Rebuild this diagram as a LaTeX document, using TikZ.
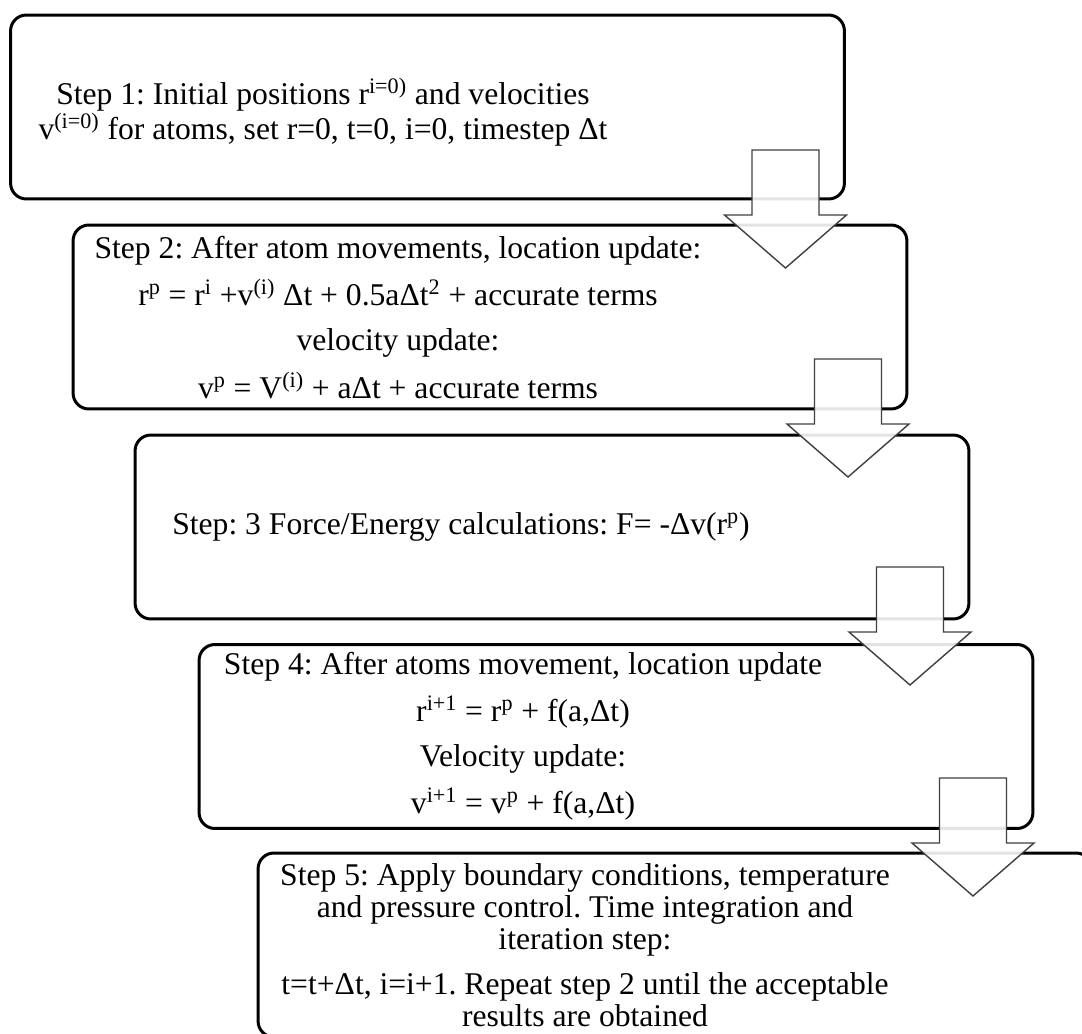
\documentclass[tikz,border=0pt]{standalone}
\usepackage{fontspec}
\setmainfont{Liberation Serif}
\usepackage{tikz}
\frenchspacing

\tikzset{
  stepbox/.style={draw, line width=1.7pt, rounded corners=9pt, minimum width=16.68cm, minimum height=3.68cm, inner sep=0pt},
  steptext/.style={align=center, inner sep=0pt, font=\fontsize{18}{18.2}\selectfont},
  downarrow/.style={draw=black!75, line width=0.8pt, fill=white, fill opacity=0.89}
}

\begin{document}
\begin{tikzpicture}[x=0.02cm, y=-0.02cm]

\useasboundingbox (0,0) rectangle (1082,1034);
\clip (0,0) rectangle (1082,1034);

% boxes
\node[stepbox] (s1) at (427.5,107) {};
\node[stepbox] (s2) at (490,317) {};
\node[stepbox] (s3) at (552,527) {};
\node[stepbox] (s4) at (616,736.5) {};
\node[stepbox] (s5) at (675,945) {};

% arrows
\coordinate (a1) at (785.5,150);
\coordinate (a2) at (848,359);
\coordinate (a3) at (910,567);
\coordinate (a4) at (973,778);
\draw[downarrow] (a1) ++(-33.5,0) -- ++(67,0) -- ++(0,65) -- ++(27.5,0) -- ++(-61,53) -- ++(-61,-53) -- ++(27.5,0) -- cycle;
\draw[downarrow] (a2) ++(-33.5,0) -- ++(67,0) -- ++(0,65) -- ++(27.5,0) -- ++(-61,53) -- ++(-61,-53) -- ++(27.5,0) -- cycle;
\draw[downarrow] (a3) ++(-33.5,0) -- ++(67,0) -- ++(0,65) -- ++(27.5,0) -- ++(-61,53) -- ++(-61,-53) -- ++(27.5,0) -- cycle;
\draw[downarrow] (a4) ++(-33.5,0) -- ++(67,0) -- ++(0,65) -- ++(27.5,0) -- ++(-61,53) -- ++(-61,-53) -- ++(27.5,0) -- cycle;

    \node[steptext, font=\fontsize{18}{17.2}\selectfont] (t1) at (323,112) {Step 1: Initial positions r\textsuperscript{i=0)} and velocities\\ v\textsuperscript{(i=0)} for atoms, set r=0, t=0, i=0, timestep Δt};
    \node[steptext] (t2) at (398,317.5) {Step 2: After atom movements, location update:\\[7.3pt] r\textsuperscript{p} = r\textsuperscript{i} +v\textsuperscript{(i)} Δt + 0.5aΔt\textsuperscript{2} + accurate terms\\[7.3pt] velocity update:\\[7.3pt] v\textsuperscript{p} = V\textsuperscript{(i)} + aΔt + accurate terms};
    \node[steptext] (t3) at (461,527) {Step: 3 Force/Energy calculations: F= -Δv(r\textsuperscript{p})};
    \node[steptext] (t4) at (523,736.5) {Step 4: After atoms movement, location update\\[7.3pt] r\textsuperscript{i+1} = r\textsuperscript{p} + f(a,Δt)\\[7.3pt] Velocity update:\\[7.3pt] v\textsuperscript{i+1} = v\textsuperscript{p} + f(a,Δt)};
    \node[steptext] (t5) at (585,945) {Step 5: Apply boundary conditions, temperature\\ and pressure control. Time integration and\\ iteration step:\\[7.3pt] t=t+Δt, i=i+1. Repeat step 2 until the acceptable\\ results are obtained};
\end{tikzpicture}
\end{document}
